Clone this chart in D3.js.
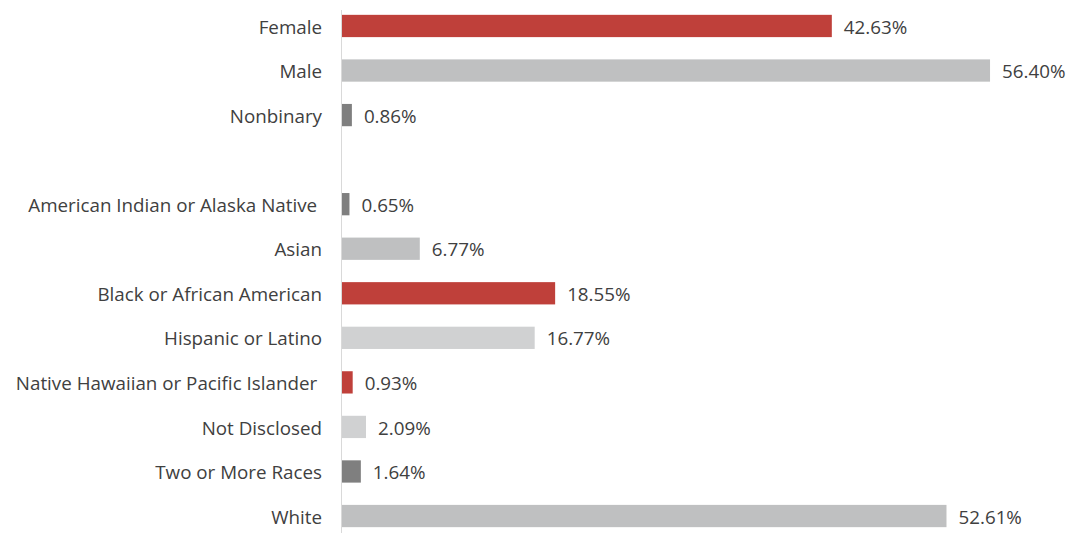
<!doctype html>
<html lang="en">
  <head>
    <meta charset="UTF-8" />
    <title>Demographics bar chart</title>
    <script src="https://d3js.org/d3.v7.min.js"></script>
    <style>
      body {
        margin: 0;
        padding: 0;
        overflow: hidden;
        background: #fff;
        font-family: "Open Sans", Arial, sans-serif;
      }
      svg {
        display: block;
      }
    </style>
  </head>
  <body>
    <script>
      // blank entry keeps the gap between gender and race groups
      const categories = [
        "Female",
        "Male",
        "Nonbinary",
        "",
        "American Indian or Alaska Native\u00a0",
        "Asian",
        "Black or African American",
        "Hispanic or Latino",
        "Native Hawaiian or Pacific Islander\u00a0",
        "Not Disclosed",
        "Two or More Races",
        "White",
      ];
      const values = [42.63, 56.4, 0.86, null, 0.65, 6.77, 18.55, 16.77, 0.93, 2.09, 1.64, 52.61];
      const shades = ["red", "gray", "dark", null, "dark", "gray", "red", "light", "red", "light", "dark", "gray"];

      const width = 1067;
      const height = 533;

      const color = d3
        .scaleOrdinal()
        .domain(["red", "gray", "dark", "light"])
        .range(["#bf403a", "#bfc0c1", "#7f7f7f", "#d0d1d2"]);

      const rows = categories.map((c, i) => ({ key: i, name: c, value: values[i], shade: shades[i] }));

      const x = d3.scaleLinear().domain([0, 60]).range([342, 1031.4]);

      const y = d3
        .scaleBand()
        .domain(rows.map((d) => d.key))
        .range([3.7, 538.3])
        .paddingInner(0.5)
        .paddingOuter(0.25);

      const svg = d3
        .select("body")
        .append("svg")
        .attr("width", width)
        .attr("height", height);

      // vertical baseline
      svg
        .append("line")
        .attr("x1", x(0) - 0.5)
        .attr("x2", x(0) - 0.5)
        .attr("y1", 10)
        .attr("y2", height)
        .attr("stroke", "#d9d9d9")
        .attr("stroke-width", 1);

      const data = rows.filter((d) => d.value !== null);

      svg
        .append("g")
        .selectAll("rect")
        .data(data)
        .join("rect")
        .attr("x", x(0))
        .attr("y", (d) => y(d.key))
        .attr("width", (d) => x(d.value) - x(0))
        .attr("height", y.bandwidth())
        .attr("fill", (d) => color(d.shade));

      // category labels
      svg
        .append("g")
        .style("font-size", "18.8px")
        .attr("fill", "#404040")
        .attr("text-anchor", "end")
        .selectAll("text")
        .data(data)
        .join("text")
        .attr("x", 322)
        .attr("y", (d) => y(d.key) + y.bandwidth() / 2 + 1)
        .attr("dy", "0.35em")
        .text((d) => d.name);

      // value labels
      svg
        .append("g")
        .style("font-size", "18.8px")
        .attr("fill", "#404040")
        .selectAll("text")
        .data(data)
        .join("text")
        .attr("x", (d) => x(d.value) + 12)
        .attr("y", (d) => y(d.key) + y.bandwidth() / 2 + 1)
        .attr("dy", "0.35em")
        .text((d) => d.value.toFixed(2) + "%");
    </script>
  </body>
</html>
